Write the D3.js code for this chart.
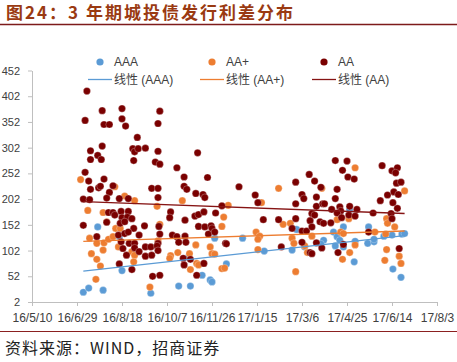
<!DOCTYPE html>
<html>
<head>
<meta charset="utf-8">
<script src="https://cdn.jsdelivr.net/npm/d3@7"></script>
<style>
body { margin: 0; background: #fff; }
text { font-family: "Liberation Sans", Arial, sans-serif; }
.cjk { font-family: "Noto Sans CJK SC", sans-serif; }
</style>
</head>
<body>
<div class="chart"></div>
<script>
// ------------------- DATA (x = Excel date serials, 42500 = 16/5/10)

var aaaX = [42573,42597,42600,42557,42563,42579,42703,42674,42716,42689,42698,42700,42663,42676,42632,
  42734,42794,42758,42789,42803,42853,42835,42846,42874,42839,42842,42824,42821,42837,42846,
  42859,42873,42880,42880,42900,42911,42914,42858,42901,42910,42891];
var aaaY = [148,129,63,21,29,25,126,90,76,54,45,41,33,33,19,
  126,143,101,103,109,182,138,148,148,129,122,122,115,111,109,
  120,116,119,124,132,134,135,80,66,50,130];

var aaPlusX = [42554,42592,42603,42614,42562,42579,42583,42593,42598,42564,42572,42580,42585,42590,42566,
  42572,42579,42576,42596,42611,42614,42613,42571,42667,42639,42642,42713,42711,42640,42682,
  42662,42654,42653,42675,42698,42700,42703,42683,42685,42676,42711,42631,42774,42718,42755,
  42779,42787,42749,42753,42751,42789,42791,42811,42751,42803,42806,42793,42714,42859,42822,
  42914,42839,42852,42843,42846,42881,42894,42895,42893,42903,42859,42853,42894,42908,42910,
  42892,42845];
var aaPlusY = [240,226,208,199,180,176,158,145,145,126,116,117,124,129,96,
  85,103,72,109,100,93,80,46,199,188,153,167,149,121,113,
  98,92,87,96,109,96,95,77,74,65,67,31,223,190,195,
  153,155,138,130,124,126,116,130,104,111,98,61,68,263,223,
  218,162,164,138,135,138,164,155,134,148,113,98,104,91,77,
  83,85];

var aaX = [42561,42578,42600,42559,42600,42580,42586,42604,42617,42578,42565,42573,42565,42577,42612,
  42614,42613,42559,42563,42580,42574,42576,42565,42590,42586,42557,42564,42583,42597,42607,
  42585,42590,42592,42599,42607,42600,42606,42611,42557,42583,42598,42603,42613,42572,42596,
  42603,42607,42599,42608,42614,42601,42614,42605,42597,42611,42642,42640,42618,42626,42640,
  42684,42637,42642,42661,42669,42695,42669,42672,42633,42640,42640,42682,42690,42692,42654,
  42653,42670,42681,42685,42691,42704,42625,42641,42685,42692,42699,42700,42619,42642,42656,
  42661,42670,42696,42703,42663,42671,42715,42640,42626,42632,42639,42619,42626,42633,42640,
  42668,42676,42669,42691,42683,42634,42642,42711,42730,42808,42793,42814,42748,42751,42800,
  42802,42793,42816,42816,42811,42814,42757,42774,42793,42809,42789,42800,42805,42811,42716,
  42800,42777,42809,42811,42837,42850,42889,42845,42851,42858,42900,42906,42904,42905,42910,
  42821,42823,42839,42837,42895,42902,42907,42887,42901,42825,42833,42842,42853,42843,42861,
  42906,42839,42852,42879,42899,42900,42859,42820,42824,42832,42844,42874,42816,42822,42846,
  42840,42908];
var aaY = [412,374,378,355,358,347,347,344,322,305,296,287,279,279,300,
  294,277,254,237,241,224,227,221,228,215,202,201,204,203,203,
  176,176,171,178,178,166,167,164,151,157,155,158,145,129,132,
  135,138,119,116,116,106,107,93,76,65,373,349,300,301,295,
  292,274,270,263,245,244,227,221,223,223,205,213,211,205,177,
  166,161,169,172,177,175,150,149,149,148,150,145,132,134,132,
  129,130,134,138,118,118,116,116,109,109,111,100,91,93,102,
  87,85,74,77,54,52,54,189,226,250,235,237,210,195,211,
  203,193,206,188,174,171,162,162,164,160,145,140,140,148,115,
  118,109,98,96,277,276,267,258,245,241,257,263,253,233,235,
  225,193,221,203,210,216,211,199,195,193,182,187,188,179,182,
  184,175,171,175,174,164,169,158,155,156,166,138,117,107,114,
  98,106];

// linear trend end points
var trendX = [42557, 42914];
var trendAAA = [62, 131];
var trendAAPlus = [120, 140];
var trendAA = [197, 174];

var xTicks = [42500,42550,42600,42650,42700,42750,42800,42850,42900,42950];
var xTickLabels = ["16/5/10","16/6/29","16/8/18","16/10/7","16/11/26","17/1/15","17/3/6","17/4/25","17/6/14","17/8/3"];
var yTicks = [2,52,102,152,202,252,302,352,402,452];

var series = [
  {name: "AAA", x: aaaX, y: aaaY, trend: trendAAA, color: "#5b9bd5", lineColor: "#5b9bd5"},
  {name: "AA+", x: aaPlusX, y: aaPlusY, trend: trendAAPlus, color: "#ed7d31", lineColor: "#ed7d31"},
  {name: "AA", x: aaX, y: aaY, trend: trendAA, color: "#7a0000", lineColor: "#861414"}
];

// ------------------- SVG

var width = 457, height = 362;
var svg = d3.select(".chart").append("svg")
  .attr("width", width)
  .attr("height", height);

// title + rules
svg.append("text")
  .attr("class", "cjk")
  .attr("x", 6).attr("y", 19)
  .attr("font-size", "17px")
  .attr("font-weight", "bold")
  .attr("fill", "#9a3a12")
  .attr("letter-spacing", "2px")
  .text("图24：3 年期城投债发行利差分布");

svg.append("line")
  .attr("x1", 0).attr("x2", width)
  .attr("y1", 24.5).attr("y2", 24.5)
  .attr("stroke", "#7d1b1b").attr("stroke-width", 1.5);

svg.append("line")
  .attr("x1", 0).attr("x2", width)
  .attr("y1", 331.5).attr("y2", 331.5)
  .attr("stroke", "#8b2020").attr("stroke-width", 1);

svg.append("text")
  .attr("class", "cjk")
  .attr("x", 5).attr("y", 354)
  .attr("font-size", "16px")
  .attr("fill", "#222")
  .attr("letter-spacing", "1px")
  .text("资料来源：WIND，招商证券");

// ------------------- SCALES / AXES

var x = d3.scaleLinear().domain([42500, 42950]).range([32, 437]);
var y = d3.scaleLinear().domain([2, 452]).range([302, 70.5]);

var yAxis = d3.axisLeft(y).tickValues(yTicks).tickSize(4).tickSizeOuter(0).tickPadding(8);
var xAxis = d3.axisBottom(x).tickValues(xTicks).tickSize(4).tickSizeOuter(0).tickPadding(7)
  .tickFormat(function(d, i){ return xTickLabels[i]; });

var gy = svg.append("g")
  .attr("transform", "translate(32,0)")
  .call(yAxis);
var gx = svg.append("g")
  .attr("transform", "translate(0,302)")
  .call(xAxis);

[gx, gy].forEach(function(g){
  g.select(".domain").attr("stroke", "#bfbfbf");
  g.selectAll(".tick line").attr("stroke", "#bfbfbf");
  g.selectAll(".tick text").attr("fill", "#404040").attr("font-family", "Liberation Sans, Arial, sans-serif");
});
gy.selectAll(".tick text").attr("font-size", "11px");
gx.selectAll(".tick text").attr("font-size", "12px");

// ------------------- POINTS

var plot = svg.append("g");

series.forEach(function(s){
  var pts = s.x.map(function(d, i){ return {x: d, y: s.y[i]}; });
  plot.append("g").selectAll("circle")
    .data(pts)
    .enter().append("circle")
    .attr("cx", function(d){ return x(d.x); })
    .attr("cy", function(d){ return y(d.y); })
    .attr("r", 3.6)
    .attr("fill", s.color)
    .attr("stroke", "#fff")
    .attr("stroke-opacity", 0.45)
    .attr("stroke-width", 0.6);
});

// trend lines
var line = d3.line()
  .x(function(d){ return x(d.x); })
  .y(function(d){ return y(d.y); });

series.forEach(function(s){
  var pts = trendX.map(function(d, i){ return {x: d, y: s.trend[i]}; });
  plot.append("path")
    .attr("fill", "none")
    .attr("stroke", s.lineColor)
    .attr("stroke-width", 1.3)
    .attr("d", line(pts));
});

// ------------------- LEGEND

var legendX = [100, 212, 324];
var legend = svg.append("g");

series.forEach(function(s, i){
  var lx = legendX[i];
  legend.append("circle")
    .attr("cx", lx).attr("cy", 62).attr("r", 3.6)
    .attr("fill", s.color);
  legend.append("text")
    .attr("x", lx + 14).attr("y", 62).attr("dy", "0.35em")
    .attr("font-size", "12px").attr("fill", "#404040")
    .text(s.name);
  legend.append("line")
    .attr("x1", lx - 12).attr("x2", lx + 12)
    .attr("y1", 79.5).attr("y2", 79.5)
    .attr("stroke", s.lineColor).attr("stroke-width", 1.3);
  legend.append("text")
    .attr("x", lx + 14).attr("y", 79.5).attr("dy", "0.35em")
    .attr("font-size", "12px").attr("fill", "#404040")
    .html('<tspan class="cjk">线性</tspan> (' + s.name + ')');
});
</script>
</body>
</html>
